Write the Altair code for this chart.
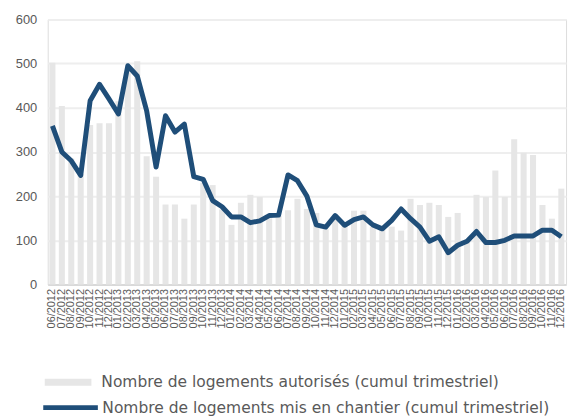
import altair as alt
import pandas as pd

months = [
    "06/2012", "07/2012", "08/2012", "09/2012", "10/2012", "11/2012", "12/2012",
    "01/2013", "02/2013", "03/2013", "04/2013", "05/2013", "06/2013", "07/2013",
    "08/2013", "09/2013", "10/2013", "11/2013", "12/2013",
    "01/2014", "02/2014", "03/2014", "04/2014", "05/2014", "06/2014", "07/2014",
    "08/2014", "09/2014", "10/2014", "11/2014", "12/2014",
    "01/2015", "02/2015", "03/2015", "04/2015", "05/2015", "06/2015", "07/2015",
    "08/2015", "09/2015", "10/2015", "11/2015", "12/2015",
    "01/2016", "02/2016", "03/2016", "04/2016", "05/2016", "06/2016", "07/2016",
    "08/2016", "09/2016", "10/2016", "11/2016", "12/2016",
]

autorises = [
    502, 404, 285, 250, 361, 365, 365,
    415, 480, 505, 290, 244, 181, 181,
    149, 181, 230, 225, 170,
    135, 185, 203, 198, 150, 155, 168,
    194, 171, 162, 125, 158,
    140, 167, 167, 130, 125, 131, 122,
    194, 180, 185, 180, 153,
    162, 100, 203, 198, 258, 198, 329,
    298, 293, 180, 149, 217,
]

chantier = [
    359, 300, 280, 247, 416, 453, 420,
    386, 495, 472, 393, 266, 382, 345,
    363, 244, 238, 190, 176,
    153, 153, 140, 144, 156, 157, 248,
    235, 200, 135, 130, 156,
    134, 147, 153, 135, 126, 145, 171,
    149, 130, 98, 108, 72,
    89, 98, 120, 95, 95, 100, 110,
    110, 110, 123, 123, 108,
]

y_ticks = [0, 100, 200, 300, 400, 500, 600]

label_bars = "Nombre de logements autorisés (cumul trimestriel)"
label_line = "Nombre de logements mis en chantier (cumul trimestriel)"

df = pd.DataFrame({
    "mois": months,
    "autorises": autorises,
    "chantier": chantier,
    "serie_a": [label_bars] * len(months),
    "serie_c": [label_line] * len(months),
})

FONT = "Liberation Sans"
LEG_FONT = "DejaVu Sans"
TXT = "#595959"
BAR = "#e6e6e6"
LINE = "#1f4e79"

x_enc = alt.X(
    "mois:N",
    sort=months,
    title=None,
    scale=alt.Scale(paddingInner=0.36, paddingOuter=0.18),
    axis=alt.Axis(
        labelAngle=-90,
        labelFontSize=11,
        labelColor=TXT,
        labelFont=FONT,
        ticks=False,
        domainColor="#d9d9d9",
        domainWidth=2,
        labelPadding=4,
        labelOverlap=False,
        grid=False,
    ),
)

y_scale = alt.Scale(domain=[0, 600])

bars = alt.Chart(df).mark_bar().encode(
    x=x_enc,
    y=alt.Y(
        "autorises:Q",
        scale=y_scale,
        title=None,
        axis=alt.Axis(
            values=y_ticks,
            labelFontSize=13,
            labelColor=TXT,
            labelFont=FONT,
            domain=False,
            ticks=False,
            labelPadding=11,
            gridColor="#eeeeee",
            gridWidth=2,
        ),
    ),
    fill=alt.Fill(
        "serie_a:N",
        scale=alt.Scale(range=[BAR]),
        legend=alt.Legend(
            title=None,
            orient="none",
            legendX=-3,
            legendY=342,
            symbolType="M-1,-0.15H1V0.15H-1Z",
            symbolSize=2209,
            symbolStrokeWidth=0,
            labelOffset=10,
            labelFontSize=15.6,
            labelColor=TXT,
            labelFont=LEG_FONT,
            labelLimit=0,
            padding=0,
        ),
    ),
)

line = alt.Chart(df).mark_line(strokeWidth=5, strokeJoin="round").encode(
    x=x_enc,
    y=alt.Y("chantier:Q", scale=y_scale),
    stroke=alt.Stroke(
        "serie_c:N",
        scale=alt.Scale(range=[LINE]),
        legend=alt.Legend(
            title=None,
            orient="none",
            legendX=-7,
            legendY=361,
            symbolType="stroke",
            symbolSize=3025,
            symbolStrokeWidth=5,
            labelOffset=2,
            labelFontSize=15.6,
            labelColor=TXT,
            labelFont=LEG_FONT,
            labelLimit=0,
            padding=0,
        ),
    ),
)

chart = alt.layer(bars, line).properties(
    width=522,
    height=267,
    padding={"left": 7, "top": 4, "right": 5, "bottom": 5},
).configure_view(stroke=None).configure(background="white")

chart.save("out.html", embed_options={"renderer": "svg", "actions": False})
